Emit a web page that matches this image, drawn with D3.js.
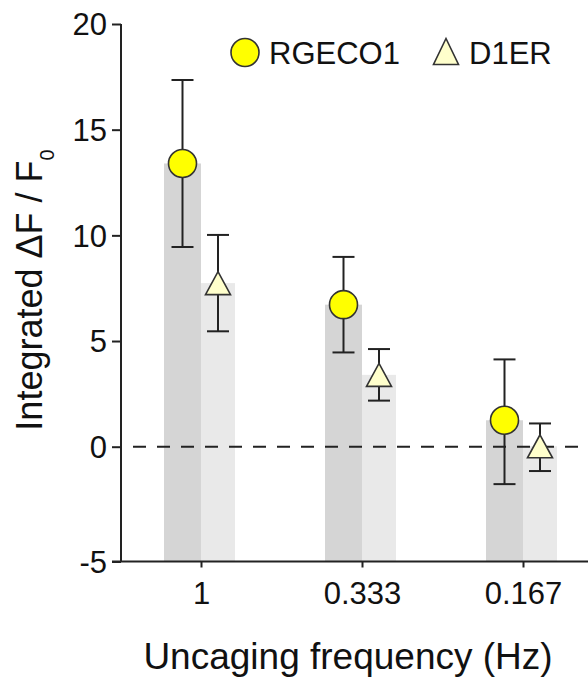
<!DOCTYPE html>
<html>
<head>
<meta charset="utf-8">
<script src="https://cdn.jsdelivr.net/npm/d3@7"></script>
<style>
  html, body { margin: 0; padding: 0; background: #fff; }
  svg { display: block; }
  text { font-family: "Liberation Sans", Arial, sans-serif; fill: #111; }
</style>
</head>
<body>
<svg id="chart" width="588" height="681"></svg>
<script>
// ---- data ----
const categories = ["1", "0.333", "0.167"];
const seriesNames = ["RGECO1", "D1ER"];
const rgecoMean = [13.4, 6.72, 1.25];
const rgecoErr  = [3.95, 2.26, 2.88];
const d1erMean  = [7.74, 3.4, 0.02];
const d1erErr   = [2.28, 1.22, 1.08];
const yTicks = [-5, 0, 5, 10, 15, 20];
const xTitle = "Uncaging frequency (Hz)";

// ---- layout ----
const svg = d3.select("#chart");
const axisX = 121, axisBottom = 561.5;

const y = d3.scaleLinear().domain([-5, 0, 20]).range([axisBottom, 446.7, 24]);
const x = d3.scalePoint().domain(categories).range([201, 523]);
const sub = d3.scaleOrdinal().domain(seriesNames).range([-18.5, 17]);
const barW = d3.scaleOrdinal().domain(seriesNames).range([37, 34]);
const barFill = d3.scaleOrdinal().domain(seriesNames).range(["#d5d5d5", "#e9e9e9"]);

const series = [
  { name: "RGECO1", mean: rgecoMean, err: rgecoErr },
  { name: "D1ER", mean: d1erMean, err: d1erErr }
];
const rows = [];
series.forEach(s => categories.forEach((c, i) => rows.push({ s: s.name, c, v: s.mean[i], e: s.err[i] })));

// bars
svg.append("g").selectAll("rect").data(rows).join("rect")
  .attr("x", d => x(d.c) + sub(d.s) - barW(d.s) / 2)
  .attr("width", d => barW(d.s))
  .attr("y", d => y(d.v))
  .attr("height", d => axisBottom - y(d.v))
  .attr("fill", d => barFill(d.s));

// zero dashed line
svg.append("line")
  .attr("x1", 133).attr("x2", 588)
  .attr("y1", y(0)).attr("y2", y(0))
  .attr("stroke", "#222").attr("stroke-width", 2)
  .attr("stroke-dasharray", "13,11");

// y axis
const yAxis = d3.axisLeft(y).tickValues(yTicks).tickSize(9).tickPadding(5).tickFormat(d => String(d));
const gy = svg.append("g").attr("transform", `translate(${axisX},0)`).call(yAxis);
gy.select(".domain").remove();
gy.append("line").attr("x1", 0).attr("x2", 0).attr("y1", y(20)).attr("y2", axisBottom)
  .attr("stroke", "#222").attr("stroke-width", 2);
gy.selectAll(".tick line").attr("stroke", "#222").attr("stroke-width", 2);
gy.selectAll(".tick text").attr("font-size", 31).attr("fill", "#111")
  .attr("font-family", "Liberation Sans, Arial, sans-serif").attr("dy", "0.35em");

// x axis
const xAxis = d3.axisBottom(x).tickSize(6).tickPadding(14);
const gx = svg.append("g").attr("transform", `translate(0,${axisBottom})`).call(xAxis);
gx.select(".domain").remove();
gx.append("line").attr("x1", 112).attr("x2", 588).attr("y1", 0).attr("y2", 0)
  .attr("stroke", "#222").attr("stroke-width", 2);
gx.selectAll(".tick line").attr("stroke", "#222").attr("stroke-width", 2);
gx.selectAll(".tick text").attr("font-size", 31).attr("fill", "#111")
  .attr("font-family", "Liberation Sans, Arial, sans-serif");

// error bars
const capW = 22;
const eg = svg.append("g").attr("stroke", "#222").attr("stroke-width", 2).attr("fill", "none");
rows.forEach(d => {
  const cx = x(d.c) + sub(d.s);
  eg.append("line").attr("x1", cx).attr("x2", cx).attr("y1", y(d.v + d.e)).attr("y2", y(d.v - d.e));
  eg.append("line").attr("x1", cx - capW / 2).attr("x2", cx + capW / 2).attr("y1", y(d.v + d.e)).attr("y2", y(d.v + d.e));
  eg.append("line").attr("x1", cx - capW / 2).attr("x2", cx + capW / 2).attr("y1", y(d.v - d.e)).attr("y2", y(d.v - d.e));
});

// markers
function tri(w, h) {
  return `M0,${-h / 2}L${w / 2},${h / 2}L${-w / 2},${h / 2}Z`;
}
const mg = svg.append("g");
rows.forEach(d => {
  const cx = x(d.c) + sub(d.s), cy = y(d.v);
  if (d.s === "RGECO1") {
    mg.append("circle").attr("cx", cx).attr("cy", cy).attr("r", 14)
      .attr("fill", "#ffff00").attr("stroke", "#333").attr("stroke-width", 1.6);
  } else {
    mg.append("path").attr("d", tri(25, 23)).attr("transform", `translate(${cx},${cy})`)
      .attr("fill", "#ffffcc").attr("stroke", "#333").attr("stroke-width", 1.6);
  }
});

// legend
const lg = svg.append("g");
lg.append("circle").attr("cx", 245).attr("cy", 52.5).attr("r", 14)
  .attr("fill", "#ffff00").attr("stroke", "#333").attr("stroke-width", 1.6);
lg.append("text").attr("x", 269).attr("y", 64).attr("font-size", 31).text(seriesNames[0]);
lg.append("path").attr("d", tri(25, 26)).attr("transform", "translate(446,51.5)")
  .attr("fill", "#ffffcc").attr("stroke", "#333").attr("stroke-width", 1.6);
lg.append("text").attr("x", 469).attr("y", 64).attr("font-size", 31).text(seriesNames[1]);

// axis titles
svg.append("text").attr("x", 348).attr("y", 669).attr("text-anchor", "middle")
  .attr("font-size", 37).text(xTitle);

const yt = svg.append("text").attr("transform", "translate(42,290) rotate(-90)")
  .attr("text-anchor", "middle").attr("font-size", 36);
yt.append("tspan").text("Integrated \u0394F / F");
yt.append("tspan").attr("font-size", 20).attr("dy", 12).text("0");
</script>
</body>
</html>
